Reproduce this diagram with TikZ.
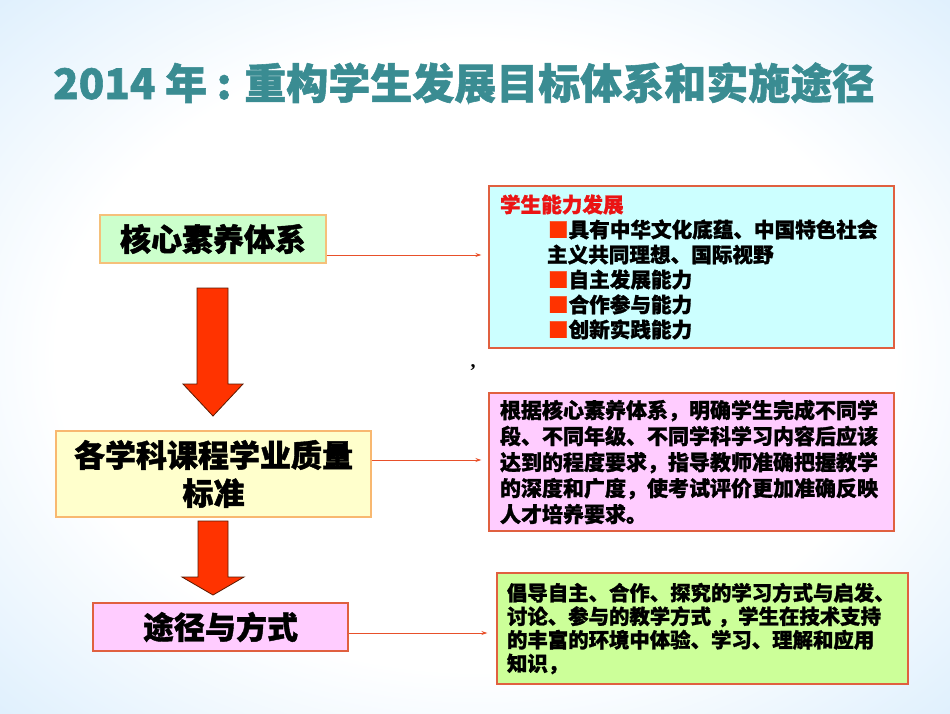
\documentclass[tikz,border=0pt]{standalone}
\usepackage{fontspec}
\setmainfont{Noto Sans CJK SC}[BoldFeatures={FakeBold=1.3}]
\newfontfamily\serifcomma{Liberation Serif}
\usetikzlibrary{arrows.meta}
\definecolor{bgblue}{RGB}{140,200,248}
\definecolor{titlecol}{RGB}{58,140,146}
\definecolor{arrowred}{RGB}{255,51,0}
\definecolor{arrowedge}{RGB}{90,25,0}
\definecolor{conncol}{RGB}{232,80,42}
\definecolor{boxborder}{RGB}{224,96,64}
\definecolor{lborderA}{RGB}{245,192,122}
\definecolor{lborderB}{RGB}{248,184,112}
\definecolor{headred}{RGB}{235,20,20}
\definecolor{greenfill}{RGB}{204,255,204}
\definecolor{yellowfill}{RGB}{255,255,204}
\definecolor{pinkfill}{RGB}{255,204,255}
\definecolor{cyanfill}{RGB}{204,255,255}
\definecolor{limefill}{RGB}{204,255,153}
\pgfdeclareradialshading{bgsh}{\pgfpoint{0bp}{0bp}}{color(0bp)=(white); color(22bp)=(white); color(44bp)=(bgblue!45!white); color(60bp)=(bgblue!85!white); color(72bp)=(bgblue); color(100bp)=(bgblue)}
\tikzset{
  lbox/.style={draw, line width=1.2pt, inner sep=0pt, align=center,
    font=\fontsize{31}{38}\selectfont\bfseries},
  rbox/.style={draw=boxborder, line width=1.3pt, align=left, inner xsep=11pt, inner ysep=0pt},
  conn/.style={draw=conncol, line width=1pt, -{Stealth[length=6pt,width=4pt]}},
  blockarrow/.style={fill=arrowred, draw=arrowedge, line width=0.8pt, line join=miter}
}
\begin{document}
\begin{tikzpicture}[x=1pt,y=-1pt]
\useasboundingbox (0,0) rectangle (950,713);
\shade[shading=bgsh] (0,0) rectangle (950,713);

% title
\node[anchor=base west, text=titlecol, inner sep=0pt,
  font=\fontsize{42}{42}\selectfont\bfseries] (title) at (53,99)
  {2014 年 : 重构学生发展目标体系和实施途径};

% left boxes
\node[lbox, fill=greenfill, draw=lborderA, minimum width=226, minimum height=48] (b1) at (213,239) {核心素养体系};
\node[lbox, fill=yellowfill, draw=lborderB, minimum width=315, minimum height=86] (b2) at (213.5,474) {各学科课程学业质量\\标准};
\node[lbox, fill=pinkfill, draw=boxborder, minimum width=255, minimum height=48] (b3) at (220.5,627) {途径与方式};

% right boxes
\node[rbox, fill=cyanfill, minimum width=405, minimum height=162, text width=383,
  font=\fontsize{20.6}{25}\selectfont\bfseries] (r1) at (691.5,267)
  {\textcolor{headred}{学生能力发展}\\
   \hspace*{48pt}\textcolor{arrowred}{■}具有中华文化底蕴、中国特色社会\\
   \hspace*{47pt}主义共同理想、国际视野\\
   \hspace*{48pt}\textcolor{arrowred}{■}自主发展能力\\
   \hspace*{48pt}\textcolor{arrowred}{■}合作参与能力\\
   \hspace*{48pt}\textcolor{arrowred}{■}创新实践能力};
\node[rbox, fill=pinkfill, minimum width=405, minimum height=138, text width=383,
  font=\fontsize{21}{26}\selectfont\bfseries] (r2) at (691.5,462)
  {根据核心素养体系，明确学生完成不同学\\
   段、不同年级、不同学科学习内容后应该\\
   达到的程度要求，指导教师准确把握教学\\
   的深度和广度，使考试评价更加准确反映\\
   人才培养要求。};
\node[rbox, fill=limefill, minimum width=411, minimum height=111, text width=391, inner xsep=10pt,
  font=\fontsize{20.4}{23.5}\selectfont\bfseries] (r3) at (702.5,628.5)
  {倡导自主、合作、探究的学习方式与启发、\\
   讨论、参与的教学方式 ，学生在技术支持\\
   的丰富的环境中体验、学习、理解和应用\\
   知识，};

% stray comma
\node[inner sep=0pt, font=\serifcomma\fontsize{20}{20}\selectfont\bfseries] (comma) at (473,368) {,};

% connectors
\coordinate (c1) at ([yshift=-16pt]b1.east);
\coordinate (c2) at ([yshift=14pt]b2.east);
\coordinate (c3) at ([yshift=-6pt]b3.east);
\draw[conn, shorten >=7pt] (c1) -- (c1 -| r1.west);
\draw[conn, shorten >=7pt] (c2) -- (c2 -| r2.west);
\draw[conn, shorten >=9pt] (c3) -- (c3 -| r3.west);

% block arrows
\draw[blockarrow] (197,288) -- (228,288) -- (228,384) -- (243,384) -- (213,416) -- (183,384) -- (197,384) -- cycle;
\draw[blockarrow] (198,521) -- (228,521) -- (228,577) -- (244,577) -- (213,595) -- (182,577) -- (198,577) -- cycle;
\end{tikzpicture}
\end{document}
